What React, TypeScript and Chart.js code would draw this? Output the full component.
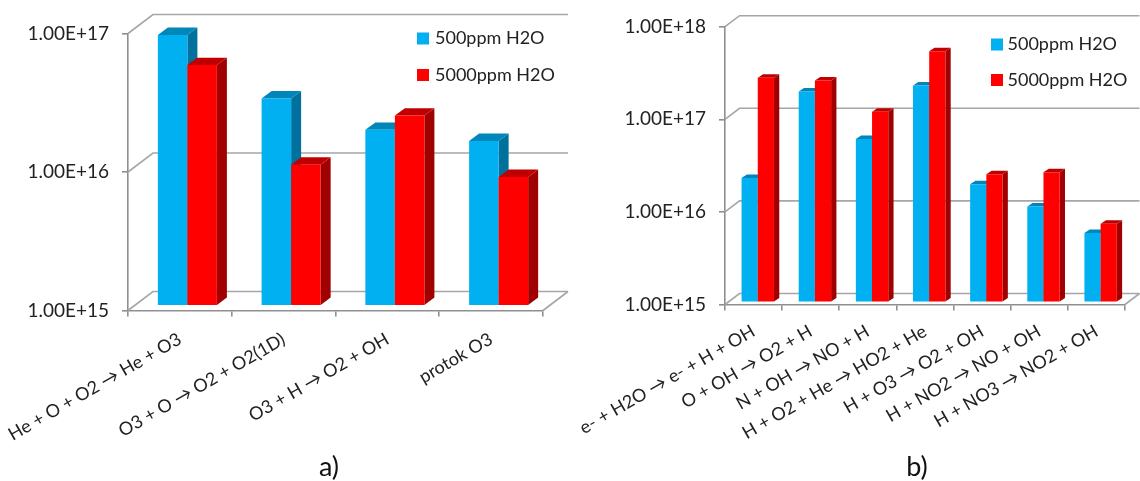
import React, { useEffect, useRef } from "react";
import { Chart, registerables } from "chart.js";

Chart.register(...registerables);

const seriesNames = ["500ppm H2O", "5000ppm H2O"];

const categoriesA = ["He + O + O2 → He + O3", "O3 + O → O2 + O2(1D)", "O3 + H → O2 + OH", "protok O3"];
const lowWaterA = [8.9e16, 3.1e16, 1.84e16, 1.53e16];
const highWaterA = [5.4e16, 1.03e16, 2.33e16, 8.4e15];
const ticksA = [1e15, 1e16, 1e17];

const categoriesB = [
  "e- + H2O → e- + H + OH",
  "O + OH → O2 + H",
  "N + OH → NO + H",
  "H + O2 + He → HO2 + He",
  "H + O3 → O2 + OH",
  "H + NO2 → NO + OH",
  "H + NO3 → NO2 + OH",
];
const lowWaterB = [2.15e16, 1.85e17, 5.7e16, 2.15e17, 1.85e16, 1.06e16, 5.5e15];
const highWaterB = [2.6e17, 2.43e17, 1.12e17, 5.05e17, 2.36e16, 2.48e16, 6.9e15];
const ticksB = [1e15, 1e16, 1e17, 1e18];

const FONT = "Lato, Carlito, sans-serif";
const TEXT = "#222222";
const GRID = "#a6a6a6";
const AXIS = "#8f8f8f";
const FRONT = ["#00b0f0", "#ff0000"];
const SIDE = ["#00709c", "#a00000"];
const TOP = ["#0086b8", "#c00000"];

function drawFaces(ctx: any, meta: any, i: number, o: any) {
  meta.data.forEach((el: any) => {
    const { x, y, base, width } = el.getProps(["x", "y", "base", "width"], true);
    const l = x - width / 2;
    const r = x + width / 2;
    ctx.fillStyle = SIDE[i];
    ctx.beginPath();
    ctx.moveTo(r, y);
    ctx.lineTo(r + o.barX, y - o.barY);
    ctx.lineTo(r + o.barX, base - o.barY);
    ctx.lineTo(r, base);
    ctx.closePath();
    ctx.fill();
    ctx.fillStyle = TOP[i];
    ctx.beginPath();
    ctx.moveTo(l, y);
    ctx.lineTo(l + o.barX, y - o.barY);
    ctx.lineTo(r + o.barX, y - o.barY);
    ctx.lineTo(r, y);
    ctx.closePath();
    ctx.fill();
  });
}

const depthPlugin = {
  id: "depth3d",
  beforeDatasetsDraw(chart: any, _a: any, o: any) {
    const { ctx, chartArea: c, scales } = chart;
    ctx.save();
    ctx.strokeStyle = GRID;
    ctx.lineWidth = 1.6;
    scales.y.ticks.forEach((t: any) => {
      const y = scales.y.getPixelForValue(t.value);
      ctx.beginPath();
      ctx.moveTo(c.left, y);
      ctx.lineTo(c.left + o.wallX, y - o.wallY);
      ctx.lineTo(c.right + o.wallX, y - o.wallY);
      ctx.stroke();
    });
    ctx.beginPath();
    ctx.moveTo(c.right, c.bottom);
    ctx.lineTo(c.right + o.wallX, c.bottom - o.wallY);
    ctx.stroke();
    ctx.restore();
  },
  // Chart.js paints the last dataset first; the red series has to land on top of the blue one.
  beforeDatasetDraw(chart: any, args: any, o: any) {
    if (args.index !== 0) return false;
    const { ctx } = chart;
    ctx.save();
    ctx.translate(o.shiftX, -o.shiftY);
    drawFaces(ctx, args.meta, 0, o);
    return true;
  },
  afterDatasetDraw(chart: any, args: any, o: any) {
    const { ctx } = chart;
    const red = chart.getDatasetMeta(1);
    drawFaces(ctx, red, 1, o);
    red.controller.draw();
    ctx.restore();
  },
  afterDraw(chart: any, _a: any, o: any) {
    const { ctx } = chart;
    ctx.save();
    ctx.textBaseline = "middle";
    ctx.textAlign = "left";
    ctx.font = `${o.legendSize}px ${FONT}`;
    chart.data.datasets.forEach((d: any, i: number) => {
      const cy = o.legendY[i];
      ctx.fillStyle = FRONT[i];
      ctx.fillRect(o.legendX, cy - 6, 12, 12);
      ctx.fillStyle = TEXT;
      ctx.fillText(d.label, o.legendTextX, cy);
    });
    ctx.font = `${o.captionSize}px ${FONT}`;
    ctx.textAlign = "center";
    ctx.fillStyle = "#111";
    ctx.fillText(o.caption, o.captionX, o.captionY);
    ctx.restore();
  },
};

type PanelProps = {
  categories: string[];
  low: number[];
  high: number[];
  ticks: number[];
  left: number;
  width: number;
  axisLeft: number;
  axisRight: number;
  axisTop: number;
  axisBottom: number;
  groupPct: number;
  labelSize: number;
  tickSize: number;
  labelPad: number;
  deco: any;
};

function Panel(p: PanelProps) {
  const ref = useRef<HTMLCanvasElement | null>(null);
  useEffect(() => {
    const chart = new Chart(ref.current as HTMLCanvasElement, {
      type: "bar",
      data: {
        labels: p.categories,
        datasets: [
          { label: seriesNames[0], data: p.low, backgroundColor: FRONT[0], clip: false },
          { label: seriesNames[1], data: p.high, backgroundColor: FRONT[1], clip: false },
        ],
      } as any,
      plugins: [depthPlugin as any],
      options: {
        responsive: false,
        animation: false,
        layout: {
          padding: { left: 0, top: p.axisTop, right: p.width - p.axisRight, bottom: 0 },
        },
        datasets: { bar: { categoryPercentage: p.groupPct, barPercentage: 1 } },
        plugins: {
          legend: { display: false },
          tooltip: { enabled: false },
          depth3d: p.deco,
        },
        scales: {
          x: {
            grid: { display: true, drawOnChartArea: false, drawTicks: true, offset: true, tickLength: 6, color: AXIS, lineWidth: 1.6 },
            border: { display: true, color: AXIS, width: 1.6 },
            ticks: {
              autoSkip: false,
              minRotation: 30,
              maxRotation: 30,
              padding: p.labelPad,
              color: TEXT,
              font: { family: FONT, size: p.labelSize },
            },
            afterFit(s: any) {
              s.height = 481 - p.axisBottom;
              s.paddingLeft = 0;
              s.paddingRight = 0;
            },
          },
          y: {
            type: "logarithmic",
            min: p.ticks[0],
            max: p.ticks[p.ticks.length - 1],
            grid: { display: true, drawOnChartArea: false, drawTicks: true, tickLength: 6, color: AXIS, lineWidth: 1.6 },
            border: { display: true, color: AXIS, width: 1.6 },
            afterBuildTicks(s: any) {
              s.ticks = p.ticks.map((value) => ({ value, major: true }));
            },
            ticks: {
              autoSkip: false,
              padding: 13,
              color: TEXT,
              font: { family: FONT, size: p.tickSize },
              callback: (v: any) => Number(v).toExponential(2).toUpperCase(),
            },
            afterFit(s: any) {
              s.width = p.axisLeft;
              s.paddingTop = 0;
              s.paddingBottom = 0;
            },
          },
        },
      } as any,
    });
    return () => chart.destroy();
  }, []);
  return (
    <canvas
      ref={ref}
      width={p.width}
      height={481}
      style={{ position: "absolute", left: p.left, top: 0, width: p.width, height: 481, display: "block" }}
    />
  );
}

export default function App() {
  return (
    <div style={{ position: "absolute", left: 0, top: 0, width: 1140, height: 481, overflow: "hidden", background: "#fff" }}>
      <Panel
        categories={categoriesA}
        low={lowWaterA}
        high={highWaterA}
        ticks={ticksA}
        left={0}
        width={580}
        axisLeft={128}
        axisRight={543}
        axisTop={33.5}
        axisBottom={310.5}
        groupPct={0.569}
        labelSize={18}
        tickSize={19}
        labelPad={12}
        deco={{
          wallX: 25, wallY: 19, shiftX: 7.5, shiftY: 5.5, barX: 10, barY: 7.4,
          legendX: 417, legendTextX: 435, legendY: [38.5, 75], legendSize: 18,
          caption: "a)", captionX: 329, captionY: 467, captionSize: 27,
        }}
      />
      <Panel
        categories={categoriesB}
        low={lowWaterB}
        high={highWaterB}
        ticks={ticksB}
        left={580}
        width={560}
        axisLeft={145}
        axisRight={545}
        axisTop={26.7}
        axisBottom={304.5}
        groupPct={0.567}
        labelSize={18}
        tickSize={19}
        labelPad={10}
        deco={{
          wallX: 14.5, wallY: 11, shiftX: 4.2, shiftY: 3, barX: 5.3, barY: 3.5,
          legendX: 411, legendTextX: 427.5, legendY: [44.5, 80], legendSize: 18,
          caption: "b)", captionX: 337, captionY: 467, captionSize: 27,
        }}
      />
    </div>
  );
}
